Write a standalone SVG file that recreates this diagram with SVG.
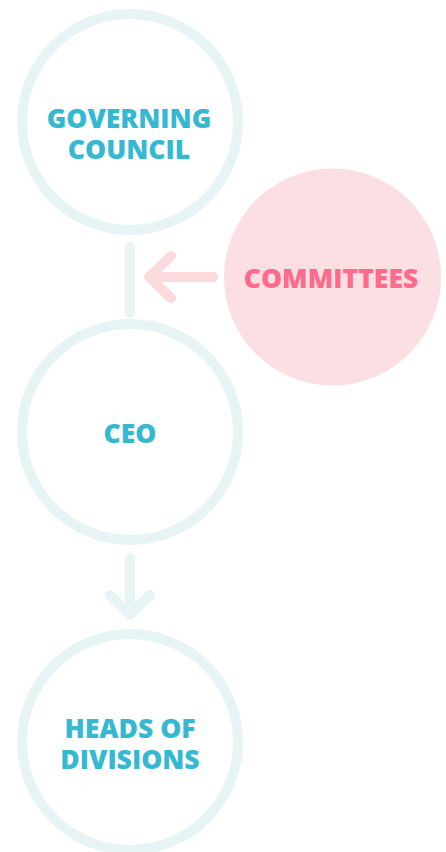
<svg xmlns="http://www.w3.org/2000/svg" width="446" height="852" viewBox="0 0 446 852">
<style>
.ring{fill:#ffffff;stroke:#e6f4f6;stroke-width:10}
.lbl{font-family:"Open Sans","Noto Sans",sans-serif;font-weight:800;font-size:26.5px;fill:#35b8d1;text-anchor:middle}
.pk{fill:#ff6a8d}
.con{fill:none;stroke:#e6f4f6;stroke-width:10;stroke-linecap:round;stroke-linejoin:round}
.conp{fill:none;stroke:#fadadd;stroke-width:10;stroke-linecap:round;stroke-linejoin:round}
</style>
<rect width="446" height="852" fill="#ffffff"/>
<g id="connectors">
<path class="con" d="M130 247 V313"/>
<path class="conp" d="M213 277 H149 M171 256 L149 277 L171 298"/>
<path class="con" d="M130 558 V615 M110 595 L130 615 L150 595"/>
</g>
<g id="governing-council">
<circle class="ring" cx="130" cy="122" r="108"/>
<text class="lbl" x="129" y="128">GOVERNING</text>
<text class="lbl" x="129" y="159">COUNCIL</text>
</g>
<g id="committees">
<circle cx="332.5" cy="277" r="108.5" fill="#fbdfe2"/>
<text class="lbl pk" x="331" y="288">COMMITTEES</text>
</g>
<g id="ceo">
<circle class="ring" cx="130" cy="432" r="108"/>
<text class="lbl" x="130" y="443">CEO</text>
</g>
<g id="heads-of-divisions">
<circle class="ring" cx="130" cy="742" r="108"/>
<text class="lbl" x="130" y="738">HEADS OF</text>
<text class="lbl" x="130" y="769">DIVISIONS</text>
</g>
</svg>
